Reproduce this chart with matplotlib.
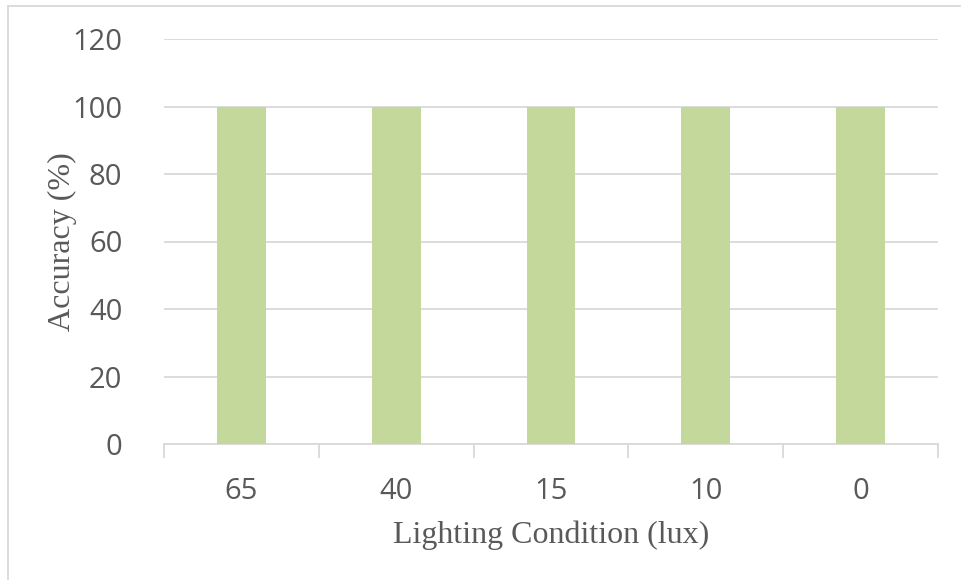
import numpy as np
import matplotlib
matplotlib.use('Agg')
import matplotlib.pyplot as plt
from matplotlib.lines import Line2D

# Accuracy under each lighting level
conditions = ['65', '40', '15', '10', '0']
accuracy = [100, 100, 100, 100, 100]

fig = plt.figure(figsize=(9.61, 5.80), dpi=100)
ax = fig.add_axes([164/961, 1-444/580, (938-164)/961, (444-39)/580])

x = np.arange(len(conditions))
ax.bar(x, accuracy, width=0.316, color='#C5D89C', zorder=3)

ax.set_xlim(-0.5, len(conditions) - 0.5)
ax.set_ylim(0, 120)
ax.set_yticks(range(0, 121, 20))
ax.yaxis.grid(True, color='#D9D9D9', linewidth=1.3, zorder=0)
ax.tick_params(axis='y', length=0, pad=30, labelsize=21, labelcolor='#595959')
for lbl in ax.get_yticklabels():
    lbl.set_fontfamily('Open Sans')

# category labels, tick marks at category boundaries
ax.set_xticks(x)
ax.set_xticklabels(conditions, fontfamily='Open Sans', fontsize=21, color='#595959')
ax.tick_params(axis='x', which='major', length=0, pad=24)
ax.set_xticks(np.arange(-0.5, len(conditions)), minor=True)
ax.tick_params(axis='x', which='minor', length=10, width=1.3, color='#D9D9D9')

for side in ['top', 'right', 'left']:
    ax.spines[side].set_visible(False)
ax.spines['bottom'].set_color('#D9D9D9')
ax.spines['bottom'].set_linewidth(1.3)

ax.set_xlabel('Lighting Condition (lux)', fontfamily='Liberation Serif', fontsize=23,
              color='#595959', labelpad=10)
ax.set_ylabel('Accuracy (%)', fontfamily='Liberation Serif', fontsize=23,
              color='#595959')
ax.yaxis.set_label_coords(-0.112, 0.5)

# outer frame, only the top and left edges are visible
fig.add_artist(Line2D([8/961, 8/961], [0, 1-6/580], transform=fig.transFigure,
                      color='#D9D9D9', linewidth=1.3))
fig.add_artist(Line2D([8/961, 1], [1-6/580, 1-6/580], transform=fig.transFigure,
                      color='#D9D9D9', linewidth=1.3))

fig.savefig('out.png', dpi=100)
